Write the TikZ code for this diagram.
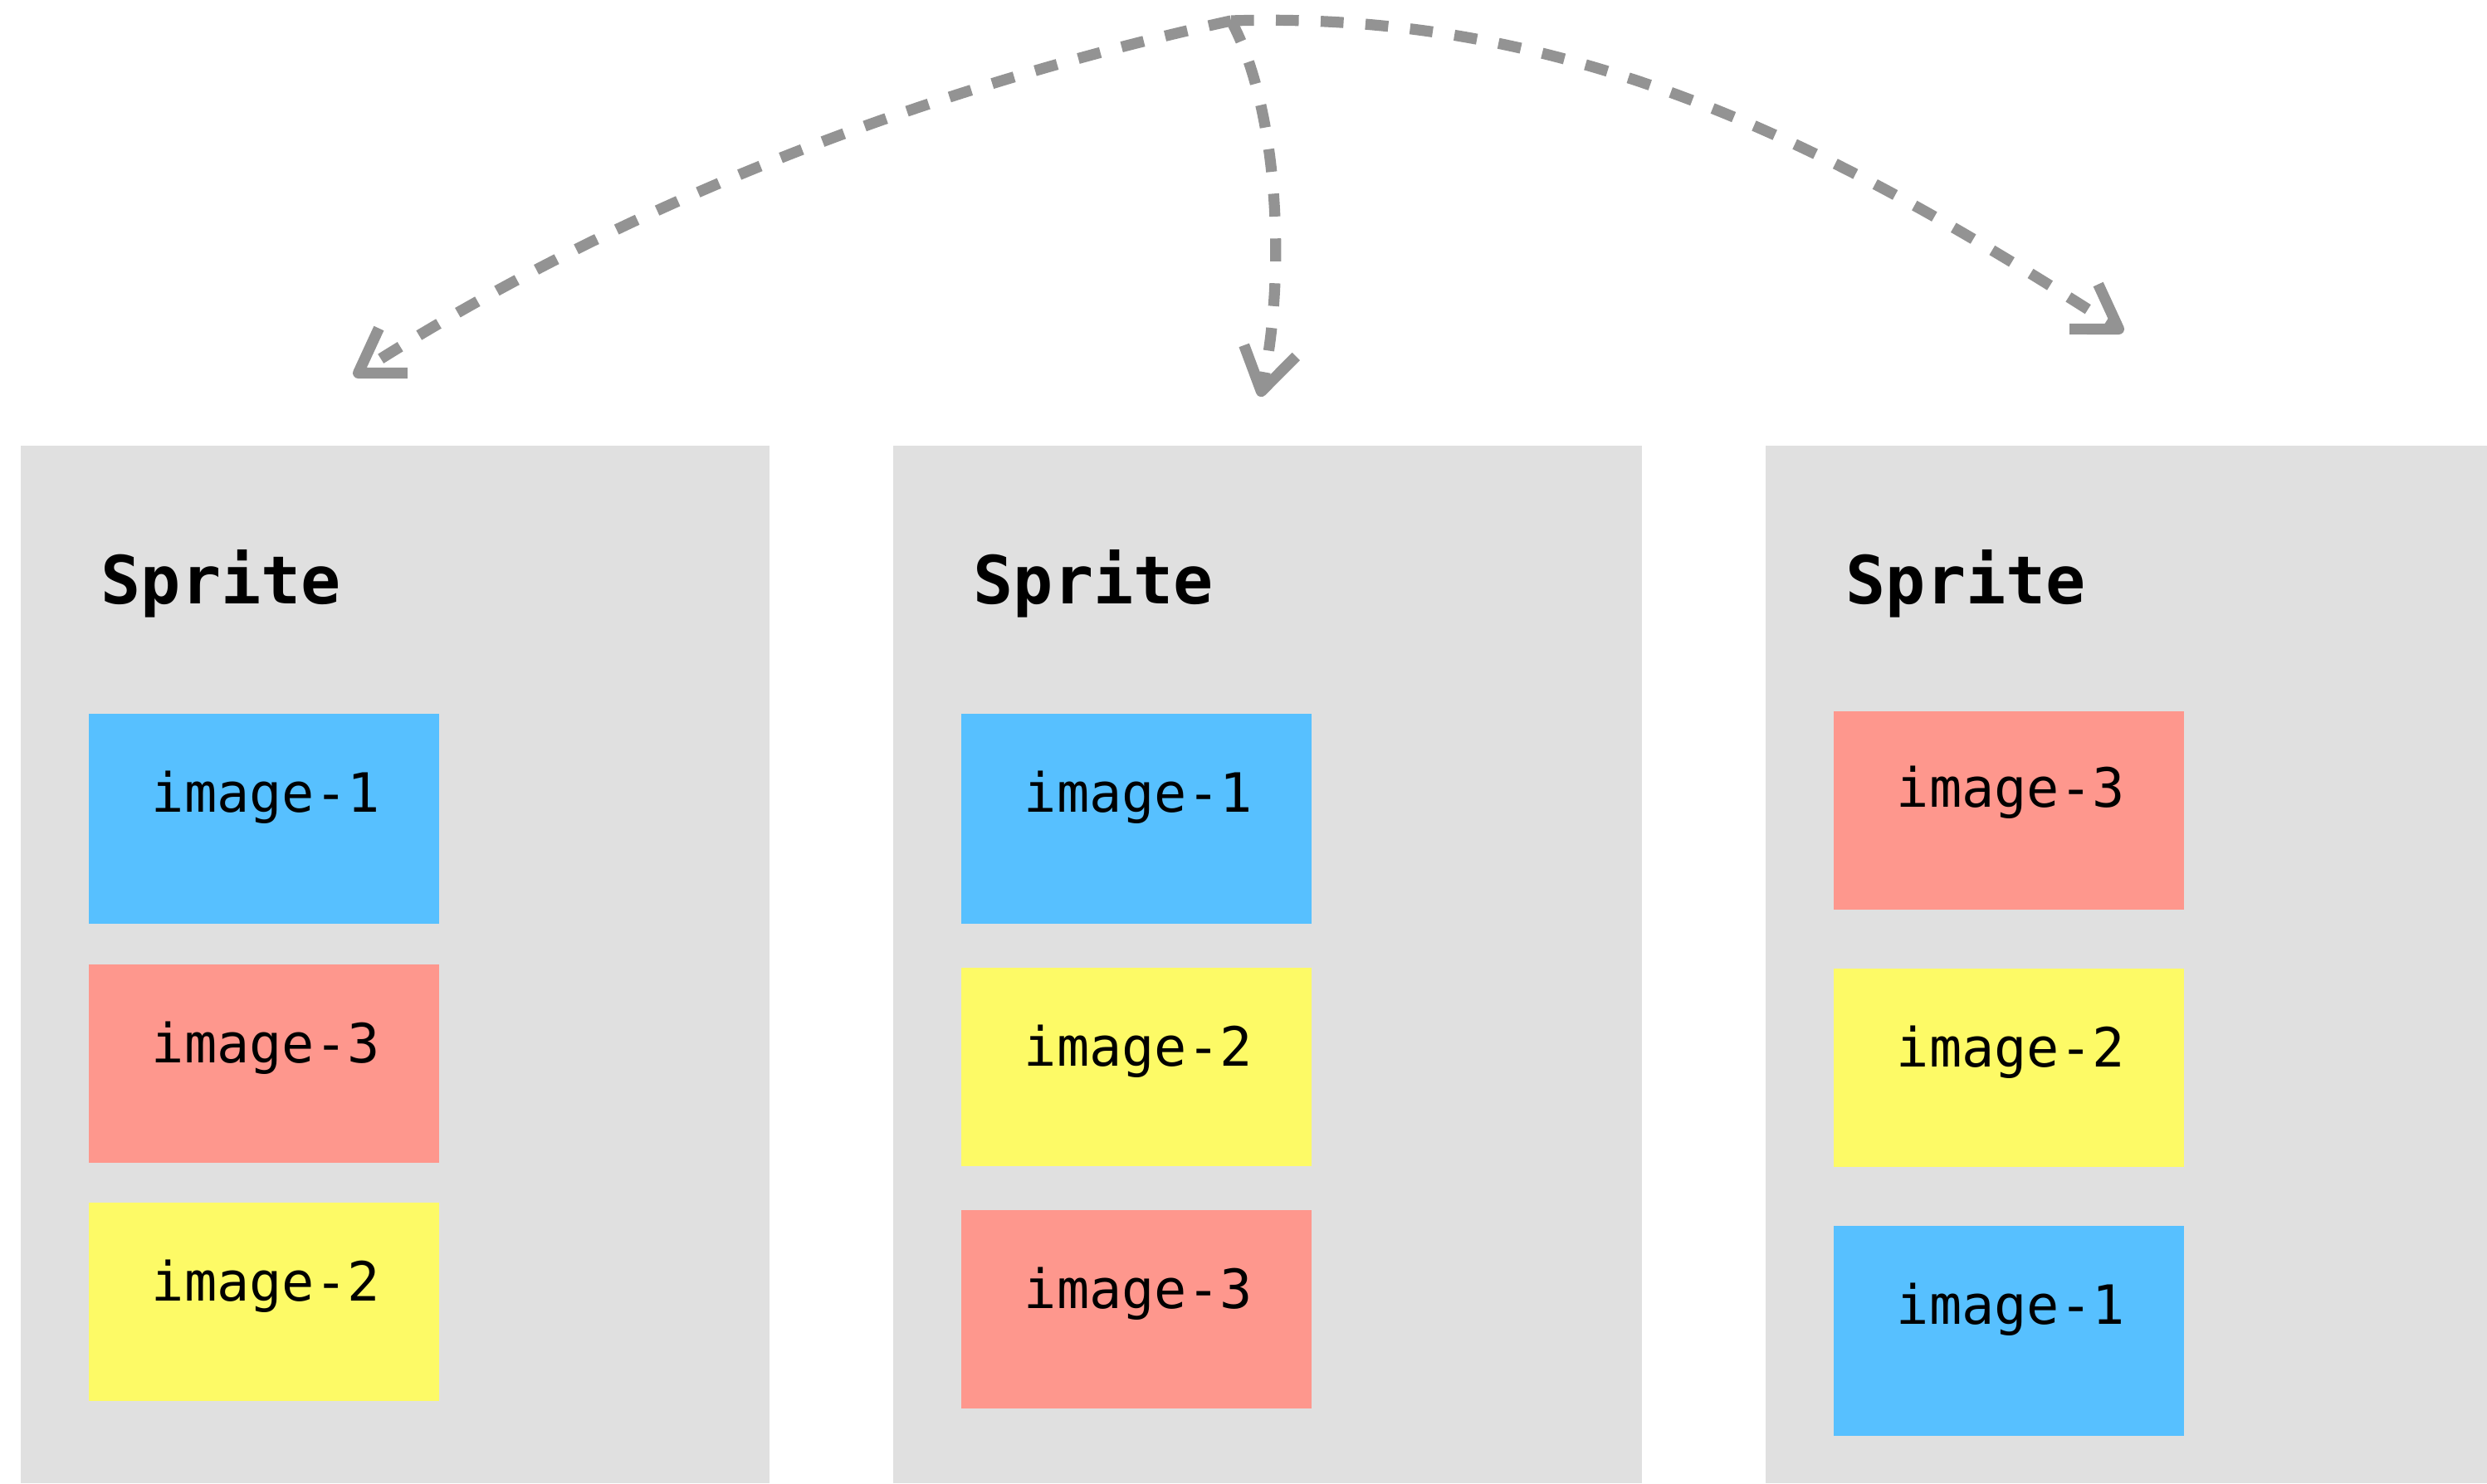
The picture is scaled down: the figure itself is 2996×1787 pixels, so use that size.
\documentclass[tikz,border=0pt]{standalone}
\usepackage{fontspec}
\setmonofont{DejaVu Sans Mono}
\usetikzlibrary{arrows.meta,calc}
\definecolor{panelgray}{RGB}{224,224,224}
\definecolor{imgblue}{RGB}{87,192,255}
\definecolor{imgred}{RGB}{254,151,141}
\definecolor{imgyellow}{RGB}{253,250,102}
\definecolor{arrowgray}{RGB}{147,147,147}
\begin{document}
\begin{tikzpicture}[x=0.25pt,y=-0.25pt,
  panel/.style={fill=panelgray, draw=none, anchor=north west, minimum width=225.5pt, minimum height=312.5pt, inner sep=0pt, outer sep=0pt},
  imgbox/.style={draw=none, anchor=north west, minimum width=105.5pt, inner sep=0pt, outer sep=0pt},
  tallbox/.style={imgbox, minimum height=63.25pt},
  shortbox/.style={imgbox, minimum height=59.75pt},
  lbl/.style={anchor=base west, inner sep=0pt, font=\ttfamily\fontsize{16.3}{18}\selectfont},
  ttl/.style={anchor=base west, inner sep=0pt, font=\ttfamily\bfseries\fontsize{20}{22}\selectfont},
  flow/.style={draw=arrowgray, line width=3.3pt, dash pattern=on 6.9pt off 6.6pt, -{Straight Barb[length=12.5pt,width=16pt,line join=round,line cap=butt]}}
]
\useasboundingbox (0,0) rectangle (2996,1787);
\clip (0,0) rectangle (2996,1787);

% panels
\node[panel] (p1) at (25,537) {};
\node[panel] (p2) at (1076,537) {};
\node[panel] (p3) at (2127,537) {};
\node[ttl] (t1) at ($(p1.north west)+(96,190)$) {Sprite};
\node[ttl] (t2) at ($(p2.north west)+(96,190)$) {Sprite};
\node[ttl] (t3) at ($(p3.north west)+(96,190)$) {Sprite};

% panel 1
\node[tallbox, fill=imgblue] (a1) at (107,860) {};
\node[shortbox, fill=imgred] (a3) at (107,1162) {};
\node[shortbox, fill=imgyellow] (a2) at (107,1449) {};
\node[lbl] (la1) at ($(a1.north west)+(75,118)$) {image-1};
\node[lbl] (la3) at ($(a3.north west)+(75,118)$) {image-3};
\node[lbl] (la2) at ($(a2.north west)+(75,118)$) {image-2};

% panel 2
\node[tallbox, fill=imgblue] (b1) at (1158,860) {};
\node[shortbox, fill=imgyellow] (b2) at (1158,1166) {};
\node[shortbox, fill=imgred] (b3) at (1158,1458) {};
\node[lbl] (lb1) at ($(b1.north west)+(75,118)$) {image-1};
\node[lbl] (lb2) at ($(b2.north west)+(75,118)$) {image-2};
\node[lbl] (lb3) at ($(b3.north west)+(75,118)$) {image-3};

% panel 3
\node[shortbox, fill=imgred] (c3) at (2209,857) {};
\node[shortbox, fill=imgyellow] (c2) at (2209,1167) {};
\node[tallbox, fill=imgblue] (c1) at (2209,1477) {};
\node[lbl] (lc3) at ($(c3.north west)+(75,115)$) {image-3};
\node[lbl] (lc2) at ($(c2.north west)+(75,118)$) {image-2};
\node[lbl] (lc1) at ($(c1.north west)+(75,118)$) {image-1};

% arrows
\coordinate (src) at (1483,25);
\coordinate (tip1) at (426,453);
\coordinate (tip2) at (1518,478);
\coordinate (tip3) at (2558,400);
\draw[flow] (src) .. controls (1083,113) and (726,261) .. (tip1);
\draw[flow] (src) .. controls (1540,130) and (1550,330) .. (tip2);
\draw[flow] (src) .. controls (1900,12) and (2215,180) .. (tip3);
\end{tikzpicture}
\end{document}
